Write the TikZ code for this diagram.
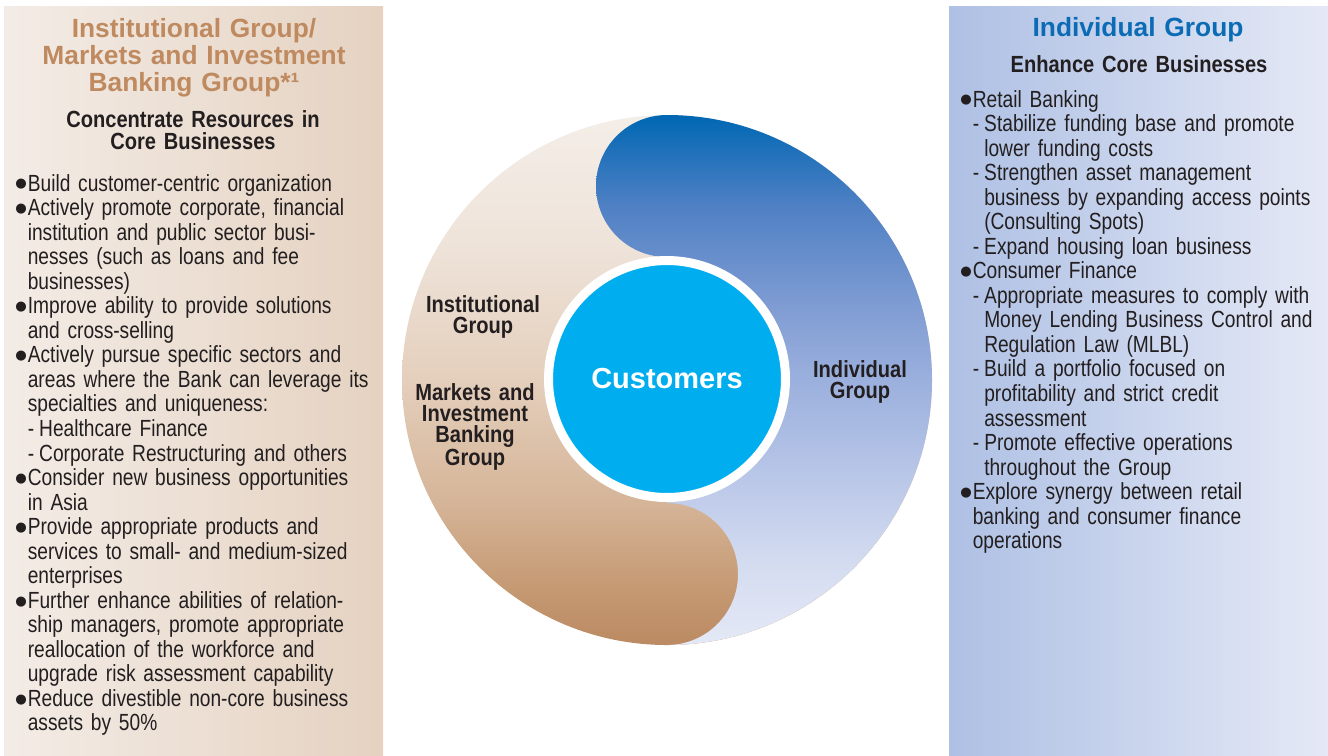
\documentclass[tikz,border=0pt]{standalone}
\usepackage{fontspec}
\setmainfont{Liberation Sans}
\newfontfamily\condfont[FakeStretch=0.82]{Liberation Sans}
\newfontfamily\condbold[FakeStretch=0.86]{Liberation Sans Bold}
\newfontfamily\symfont{DejaVu Sans}

\definecolor{textgray}{HTML}{231F20}
\definecolor{headtan}{HTML}{BF8A5F}
\definecolor{headblue}{HTML}{0B6CB5}
\definecolor{instpanelL}{HTML}{F3ECE6}
\definecolor{instpanelR}{HTML}{E5D2C1}
\definecolor{indpanelL}{HTML}{AEC0E4}
\definecolor{indpanelR}{HTML}{E5E9F6}
\definecolor{corecyan}{HTML}{00AEEF}
% ring colours, top to bottom
\definecolor{brownA}{HTML}{F4EEE8}
\definecolor{brownB}{HTML}{EEE3D9}
\definecolor{brownC}{HTML}{E4CFBC}
\definecolor{brownD}{HTML}{D6B69A}
\definecolor{brownE}{HTML}{C49871}
\definecolor{brownF}{HTML}{BB8A63}
\definecolor{blueA}{HTML}{0067B3}
\definecolor{blueB}{HTML}{4F80C4}
\definecolor{blueC}{HTML}{7F9CD3}
\definecolor{blueD}{HTML}{9BB0DD}
\definecolor{blueE}{HTML}{B7C5E7}
\definecolor{blueF}{HTML}{D3DBF0}
\definecolor{blueG}{HTML}{E4E9F6}

\pgfdeclareverticalshading{instring}{100bp}{color(0bp)=(brownF); color(25bp)=(brownF);
  color(30bp)=(brownE); color(39bp)=(brownD); color(50bp)=(brownC);
  color(62.5bp)=(brownB); color(75bp)=(brownA); color(100bp)=(brownA)}
\pgfdeclareverticalshading{indring}{100bp}{color(0bp)=(blueG); color(25bp)=(blueG);
  color(33bp)=(blueF); color(41.5bp)=(blueE); color(50bp)=(blueD);
  color(57bp)=(blueC); color(66.5bp)=(blueB); color(75bp)=(blueA); color(100bp)=(blueA)}

% list helpers
\newcommand\itembul{\makebox[7.1pt][l]{\raisebox{1.8pt}{\symfont\fontsize{7.5}{0}\selectfont ●}}}
\newcommand\itemind{\hspace*{7.1pt}}
\newcommand\subdash{\makebox[6.5pt][l]{-}}
\newcommand\subind{\hspace*{6.5pt}}

\begin{document}
\begin{tikzpicture}[x=0.02cm,y=-0.02cm,
  heading/.style={font=\bfseries\fontsize{15}{15.6}\selectfont, text width=8cm,
    align=center, inner sep=0pt, anchor=base},
  subhead/.style={font=\condbold\fontsize{13.3}{12.7}\selectfont, text=textgray,
    text width=8cm, align=center, inner sep=0pt, anchor=base},
  bullets/.style={font=\condfont\fontsize{13.3}{13.97}\selectfont, text=textgray,
    text width=7.4cm, align=left, inner sep=0pt, anchor=base west},
  grouplabel/.style={font=\condbold\fontsize{13.3}{12}\selectfont, text=textgray,
    text width=3cm, align=center, inner sep=0pt, anchor=base}]
  \useasboundingbox (0,0) rectangle (1328,755);

  % side panels
  \shade[left color=instpanelL, right color=instpanelR] (4,6) rectangle (383,755);
  \shade[left color=indpanelL, right color=indpanelR] (949,6) rectangle (1328,755);

  % ring: brown half, blue S-shaped half, customers in the middle
  \shade[shading=instring] (667,380) circle[radius=265];
  \shade[shading=indring]
    (667,115) arc[start angle=-90, end angle=90, radius=265]
    arc[start angle=90, end angle=-90, radius=71]
    -- (667,257)
    arc[start angle=90, end angle=270, radius=71] -- cycle;
  \node[circle, fill=corecyan, draw=white, line width=0.18cm, minimum size=4.74cm,
    inner sep=0pt, text=white, font=\bfseries\fontsize{16.5}{18}\selectfont]
    (customers) at (667,379) {Customers};

  \node[grouplabel] (instlabel) at (483,312) {Institutional\\Group};
  \node[grouplabel] (mibglabel) at (475,400) {Markets and\\Investment\\Banking\\Group};
  \node[grouplabel] (indlabel) at (860,377) {Individual\\Group};

  % left panel text
  \node[heading, text=headtan] (insthead) at (194,37)
    {Institutional Group/\\Markets and Investment\\Banking Group*¹};
  \node[subhead] (instsub) at (193,127) {Concentrate Resources in\\Core Businesses};
  \node[bullets] (instlist) at (15,191) {%
    \itembul Build customer-centric organization\\
    \itembul Actively promote corporate, financial\\
    \itemind institution and public sector busi-\\
    \itemind nesses (such as loans and fee\\
    \itemind businesses)\\
    \itembul Improve ability to provide solutions\\
    \itemind and cross-selling\\
    \itembul Actively pursue specific sectors and\\
    \itemind areas where the Bank can leverage its\\
    \itemind specialties and uniqueness:\\
    \itemind\subdash Healthcare Finance\\
    \itemind\subdash Corporate Restructuring and others\\
    \itembul Consider new business opportunities\\
    \itemind in Asia\\
    \itembul Provide appropriate products and\\
    \itemind services to small- and medium-sized\\
    \itemind enterprises\\
    \itembul Further enhance abilities of relation-\\
    \itemind ship managers, promote appropriate\\
    \itemind reallocation of the workforce and\\
    \itemind upgrade risk assessment capability\\
    \itembul Reduce divestible non-core business\\
    \itemind assets by 50\%};

  % right panel text
  \node[heading, text=headblue] (indhead) at (1138,36) {Individual Group};
  \node[subhead] (indsub) at (1139,72) {Enhance Core Businesses};
  \node[bullets] (indlist) at (960,107) {%
    \itembul Retail Banking\\
    \itemind\subdash Stabilize funding base and promote\\
    \itemind\subind lower funding costs\\
    \itemind\subdash Strengthen asset management\\
    \itemind\subind business by expanding access points\\
    \itemind\subind (Consulting Spots)\\
    \itemind\subdash Expand housing loan business\\
    \itembul Consumer Finance\\
    \itemind\subdash Appropriate measures to comply with\\
    \itemind\subind Money Lending Business Control and\\
    \itemind\subind Regulation Law (MLBL)\\
    \itemind\subdash Build a portfolio focused on\\
    \itemind\subind profitability and strict credit\\
    \itemind\subind assessment\\
    \itemind\subdash Promote effective operations\\
    \itemind\subind throughout the Group\\
    \itembul Explore synergy between retail\\
    \itemind banking and consumer finance\\
    \itemind operations};
\end{tikzpicture}
\end{document}
